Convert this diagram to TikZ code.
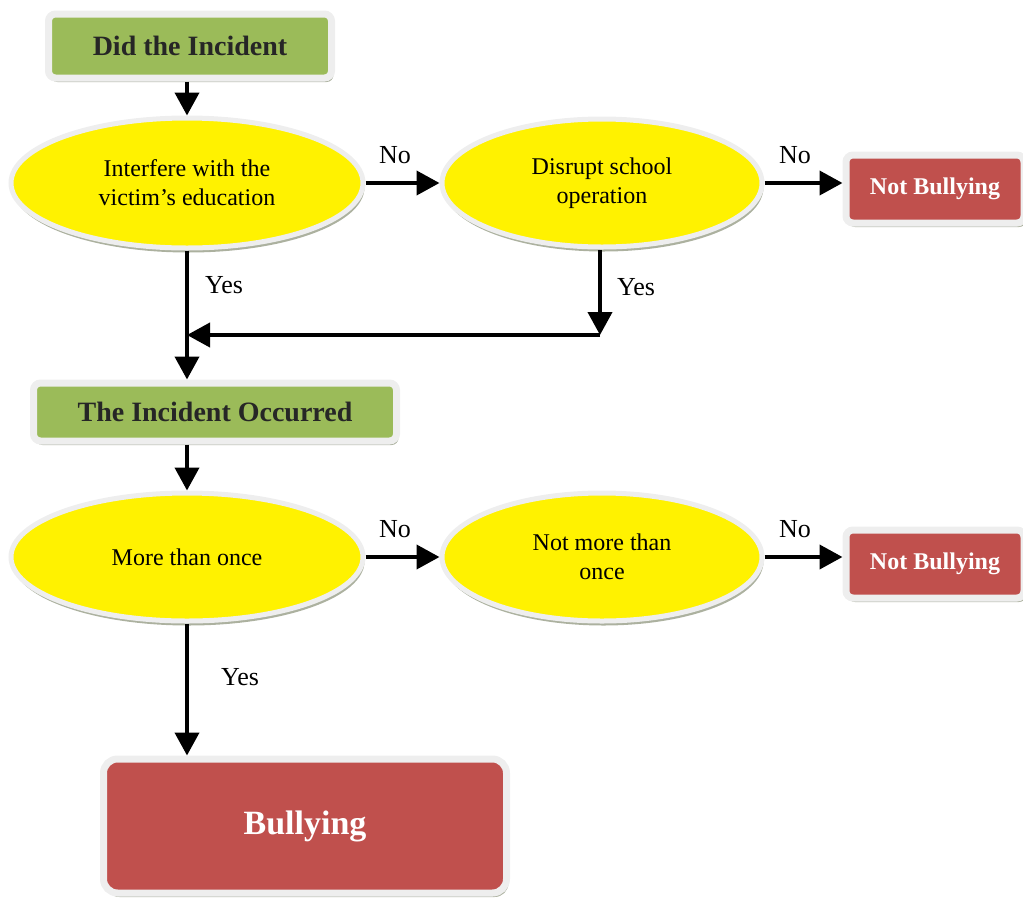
\documentclass[tikz,border=0pt]{standalone}
\usepackage{fontspec}
\setmainfont{Liberation Serif}
\usetikzlibrary{shapes.geometric,shadows,arrows.meta}
\definecolor{boxgreen}{HTML}{9BBB59}
\definecolor{boxred}{HTML}{C0504D}
\definecolor{rim}{HTML}{EEEEEE}
\definecolor{shade}{HTML}{A3A995}
\begin{document}
\begin{tikzpicture}[x=1pt,y=-1pt,
  dec/.style={ellipse, draw=rim, line width=5pt, fill=yellow, inner sep=0pt, align=center,
    font=\fontsize{24}{29}\selectfont,
    drop shadow={shadow xshift=1.5pt, shadow yshift=-4.5pt, fill=shade, opacity=0.9}},
  rimbox/.style={rectangle, rounded corners=7pt, draw=rim, line width=7pt, inner sep=0pt,
    drop shadow={shadow xshift=2pt, shadow yshift=-4pt, fill=shade, opacity=0.9}},
  greenbox/.style={rimbox, fill=boxgreen, font=\bfseries\fontsize{28}{32}\selectfont, text=black!85},
  redbox/.style={rimbox, fill=boxred, font=\bfseries\fontsize{24}{28}\selectfont, text=white},
  arr/.style={line width=4pt, -{Triangle[width=24pt,length=23pt]}},
  lbl/.style={font=\fontsize{26}{30}\selectfont, inner sep=0pt}]
\useasboundingbox (0,0) rectangle (1023,903);

\node[greenbox, minimum width=283pt, minimum height=64pt] (box1) at (190,46) {Did the Incident};
\node[dec, minimum width=352pt, minimum height=130pt] (e1) at (187,183) {Interfere with the\\victim’s education};
\node[dec, minimum width=320pt, minimum height=128pt] (e2) at (602,183) {Disrupt school\\operation};
\node[redbox, minimum width=178pt, minimum height=68pt] (nb1) at (935,189) {Not Bullying};

\node[greenbox, minimum width=363pt, minimum height=58pt] (box2) at (215,412) {The Incident Occurred};
\node[dec, minimum width=352pt, minimum height=128pt] (e3) at (187,557) {More than once};
\node[dec, minimum width=320pt, minimum height=128pt] (e4) at (602,557) {Not more than\\once};
\node[redbox, minimum width=178pt, minimum height=68pt] (nb2) at (935,564) {Not Bullying};

\node[rimbox, fill=boxred, rounded corners=14pt, minimum width=403pt, minimum height=134pt,
  font=\bfseries\fontsize{34}{38}\selectfont, text=white] (bully) at (305,826) {Bullying};

\coordinate (j) at (600,335);
\coordinate (m) at (e1.south |- j);

\draw[arr] (box1.south -| e1.north) -- (e1.north);
\draw[arr] (e1.east) -- (e2.west);
\draw[arr] (e2.east) -- (nb1.west |- e2.east);
\draw[arr] (e1.south) -- (e1.south |- box2.north);
\draw[arr] (e2.south -| j) -- (j);
\draw[arr] (j) -- (m);
\draw[arr] (box2.south -| e3.north) -- (e3.north);
\draw[arr] (e3.east) -- (e4.west);
\draw[arr] (e4.east) -- (nb2.west |- e4.east);
\draw[arr] (e3.south) -- (e3.south |- bully.north);

\node[lbl] (no1) at (395,155) {No};
\node[lbl] (no2) at (795,155) {No};
\node[lbl] (yes1) at (224,285) {Yes};
\node[lbl] (yes2) at (636,287) {Yes};
\node[lbl] (no3) at (395,529) {No};
\node[lbl] (no4) at (795,529) {No};
\node[lbl] (yes3) at (240,677) {Yes};
\end{tikzpicture}
\end{document}
